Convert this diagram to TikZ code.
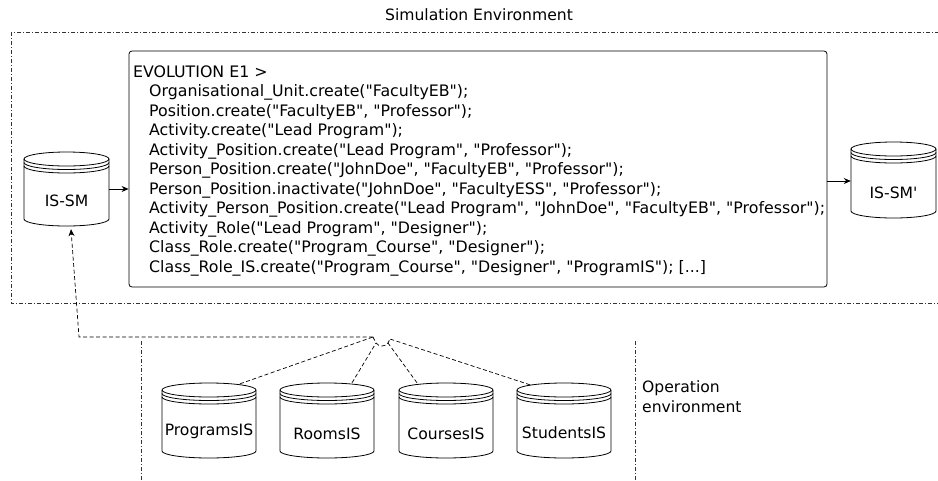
\documentclass[tikz,border=0pt]{standalone}
\usepackage{fontspec}
\setmainfont{DejaVu Sans}[Ligatures=TeXOff]
\usetikzlibrary{arrows.meta}
\newcommand\dbcyl[7]{% name, left, top, width, height, label, label y
  \pgfmathsetmacro\cx{#2+#4/2}
  \pgfmathsetmacro\rx{#4/2}
  \pgfmathsetmacro\bt{#3+#5-7}
  \draw[cylline] (#2,#3+7) -- (#2,\bt) arc[start angle=180,end angle=360,x radius=\rx pt,y radius=7pt] -- (#2+#4,#3+7);
  \draw[cylline] (\cx,#3+7) ellipse[x radius=\rx pt,y radius=7pt];
  \draw[cylline] (#2,#3+10.5) arc[start angle=180,end angle=360,x radius=\rx pt,y radius=7pt];
  \draw[cylline] (#2,#3+14) arc[start angle=180,end angle=360,x radius=\rx pt,y radius=7pt];
  \node[inner sep=0pt,minimum width=#4pt,minimum height=#5pt] (#1) at (\cx,#3+#5/2) {};
  \node[lbl] (#1-text) at (\cx,#7) {#6};
}
\begin{document}
\begin{tikzpicture}[x=1pt,y=-1pt,
  cylline/.style={line width=0.8pt,black},
  lbl/.style={font=\fontsize{15.6}{18}\selectfont,inner sep=0pt},
  codeline/.style={font=\fontsize{15.8}{18}\selectfont,inner sep=0pt,anchor=base west},
  envbox/.style={line width=0.7pt,black!80,dash pattern=on 4pt off 2pt on 1pt off 2pt},
  dep/.style={line width=0.7pt,dash pattern=on 4pt off 2.5pt},
  arr/.style={line width=0.8pt,-{Stealth[length=7pt,width=6pt]}}]
\useasboundingbox (0,0) rectangle (938,480);
\clip (0,0) rectangle (938,480);
% simulation environment
\draw[envbox] (11,32) rectangle (960,303);
\node[lbl] (simlabel) at (479,15) {Simulation Environment};
% operation environment
\draw[envbox] (141,341) -- (141,490);
\draw[envbox] (635,341) -- (635,490);
\node[lbl,anchor=west,align=left,font=\fontsize{15.6}{20}\selectfont] (oplabel) at (642,397) {Operation\\environment};
% code box
\node[draw,line width=0.8pt,rounded corners=3pt,minimum width=698pt,minimum height=236pt,inner sep=0pt] (code) at (478,169) {};
\node[codeline] (l0) at (133,77) {EVOLUTION E1 >};
\foreach \t [count=\i] in {%
  {Organisational\_Unit.create("FacultyEB");},
  {Position.create("FacultyEB", "Professor");},
  {Activity.create("Lead Program");},
  {Activity\_Position.create("Lead Program", "Professor");},
  {Person\_Position.create("JohnDoe", "FacultyEB", "Professor");},
  {Person\_Position.inactivate("JohnDoe", "FacultyESS", "Professor");},
  {Activity\_Person\_Position.create("Lead Program", "JohnDoe", "FacultyEB", "Professor");},
  {Activity\_Role("Lead Program", "Designer");},
  {Class\_Role.create("Program\_Course", "Designer");}}
  \node[codeline] (l\i) at (149,{77+19.5*\i}) {\t};
\node[codeline] (l10) at (149,272) {Class\_Role\_IS.create("Program\_Course", "Designer", "ProgramIS"); [...]};
% cylinders
\dbcyl{issm}{24}{152}{85}{74}{IS-SM}{201}
\dbcyl{issmp}{851}{142}{85}{76}{IS-SM'}{193}
\dbcyl{prog}{162}{383}{94}{75}{ProgramsIS}{431}
\dbcyl{rooms}{280}{383}{94}{75}{RoomsIS}{434}
\dbcyl{courses}{399}{383}{94}{75}{CoursesIS}{434}
\dbcyl{students}{517}{383}{94}{75}{StudentsIS}{433}
% flow arrows
\draw[arr] (issm.east |- 0,189) -- (code.west |- 0,189);
\draw[arr] (code.east |- 0,181) -- (issmp.west |- 0,181);
% dependency connectors
\coordinate (ja) at (373,337);
\coordinate (jb) at (376,343);
\coordinate (jd) at (388,343);
\coordinate (je) at (390,339);
\coordinate (bend) at (79,337);
\draw[dep] (ja) -- (jb) .. controls (379,347) and (385,347) .. (jd) -- (je);
\draw[dep] ([xshift=31pt,yshift=-1pt]prog.north) -- (ja);
\draw[dep] ([xshift=25pt]rooms.north) -- (jb);
\draw[dep] ([xshift=-29pt]courses.north) -- (jd);
\draw[dep] ([xshift=-34pt,yshift=-2pt]students.north) -- (je);
\draw[dep,-{Stealth[length=7pt,width=6pt]}] (ja) -- (bend) -- ([xshift=4.5pt,yshift=-3pt]issm.south);
\end{tikzpicture}
\end{document}
